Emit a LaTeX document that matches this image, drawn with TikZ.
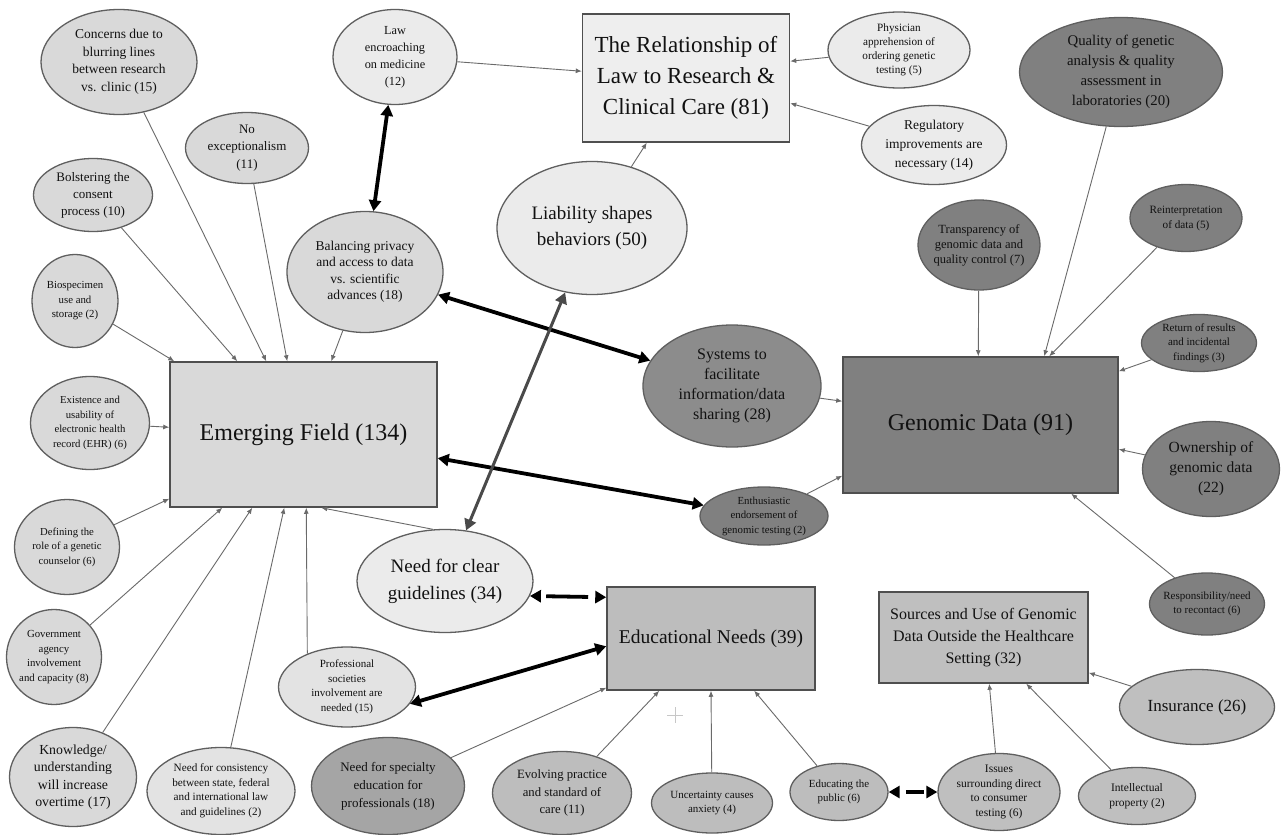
\documentclass[tikz,border=0pt]{standalone}
\usepackage{fontspec}
\setmainfont{Liberation Serif}
\usetikzlibrary{shapes.geometric,arrows.meta}
\definecolor{cLight}{HTML}{EBEBEB}
\definecolor{cRel}{HTML}{EEEEEE}
\definecolor{cMid}{HTML}{D9D9D9}
\definecolor{cLightB}{HTML}{E3E3E3}
\definecolor{cEdu}{HTML}{BDBDBD}
\definecolor{cSpec}{HTML}{A5A5A5}
\definecolor{cSrc}{HTML}{BFBFBF}
\definecolor{cDark}{HTML}{808080}
\definecolor{cSys}{HTML}{8C8C8C}
\definecolor{bordc}{HTML}{5F5F5F}
\definecolor{boxc}{HTML}{4F4F4F}
\definecolor{linec}{HTML}{6A6A6A}
\definecolor{txt}{HTML}{111111}
\definecolor{liabc}{HTML}{4A4A4A}
\tikzset{
  ov/.style 2 args={ellipse, draw=bordc, line width=1.3pt, minimum width=#1, minimum height=#2, inner sep=-30pt, align=center, text=txt},
  bx/.style 2 args={rectangle, draw=boxc, line width=1.5pt, minimum width=#1, minimum height=#2, inner sep=0pt, align=center, text=txt},
  fs/.style 2 args={font=\fontsize{#1}{#2}\selectfont},
  conn/.style={draw=linec, line width=0.9pt, -{Latex[length=6pt,width=5pt]}},
  biarrow/.style={line width=3.8pt, {Triangle[length=11pt,width=12pt]}-{Triangle[length=11pt,width=12pt]}},
}
\begin{document}
\begin{tikzpicture}[x=1pt,y=-1pt]
\useasboundingbox (0,0) rectangle (1286,835);
\fill[white] (0,0) rectangle (1286,835);

% ---- boxes
\node[bx={207pt}{128pt}, fill=cRel, fs={23}{31}] (rel) at (686,78) {The Relationship of\\Law to Research \&\\Clinical Care (81)};
\node[bx={267pt}{145pt}, fill=cMid, fs={24}{30}] (emerg) at (303.5,434.5) {Emerging Field (134)};
\node[bx={275pt}{136pt}, fill=cDark, fs={24}{30}] (gen) at (980.5,425) {Genomic Data (91)};
\node[bx={208pt}{103pt}, fill=cEdu, fs={19.5}{25}] (edu) at (711,638.5) {Educational Needs (39)};
\node[bx={209pt}{91pt}, fill=cSrc, fs={16}{22}] (src) at (983.5,637.5) {Sources and Use of Genomic\\Data Outside the Healthcare\\Setting (32)};

% ---- ellipses, left group
\node[ov={156pt}{105pt}, fill=cMid, fs={13.5}{17.5}] (concerns) at (119,62) {Concerns due to\\blurring lines\\between research\\vs. clinic (15)};
\node[ov={123pt}{71pt}, fill=cMid, fs={13}{17.5}] (noexc) at (247,148) {No\\exceptionalism\\(11)};
\node[ov={119pt}{73pt}, fill=cMid, fs={13}{17}] (bolster) at (93,195) {Bolstering the\\consent\\process (10)};
\node[ov={86pt}{93pt}, fill=cMid, fs={10.8}{14.5}] (bio) at (75,301) {Biospecimen\\use and\\storage (2)};
\node[ov={119pt}{93pt}, fill=cMid, fs={10.7}{14.5}] (ehr) at (90,423) {Existence and\\usability of\\electronic health\\record (EHR) (6)};
\node[ov={105pt}{95pt}, fill=cMid, fs={10.7}{14.5}] (defin) at (67,547) {Defining the\\role of a genetic\\counselor (6)};
\node[ov={95pt}{95pt}, fill=cMid, fs={10.8}{14.5}] (gov) at (54,657) {Government\\agency\\involvement\\and capacity (8)};
\node[ov={127pt}{99pt}, fill=cMid, fs={13.8}{17.5}] (know) at (73,777) {Knowledge/\\understanding\\will increase\\overtime (17)};
\node[ov={148pt}{87pt}, fill=cLightB, fs={11.2}{14.5}] (consist) at (221,791) {Need for consistency\\between state, federal\\and international law\\and guidelines (2)};
\node[ov={137pt}{80pt}, fill=cLightB, fs={11}{14.5}] (prof) at (347,687) {Professional\\societies\\involvement are\\needed (15)};
\node[ov={176pt}{103pt}, fill=cLight, fs={19}{27}] (needclear) at (445,581) {Need for clear\\guidelines (34)};
\node[ov={156pt}{121pt}, fill=cMid, fs={13.5}{16.5}] (balan) at (365,272) {Balancing privacy\\and access to data\\vs. scientific\\advances (18)};

% ---- top group
\node[ov={124pt}{95pt}, fill=cLight, fs={12.3}{17}] (law) at (395,57) {Law\\encroaching\\on medicine\\(12)};
\node[ov={190pt}{133pt}, fill=cLight, fs={19}{26.5}] (liab) at (592,228) {Liability shapes\\behaviors (50)};
\node[ov={142pt}{76pt}, fill=cLight, fs={11.2}{14}] (phys) at (899,50) {Physician\\apprehension of\\ordering genetic\\testing (5)};
\node[ov={145pt}{79pt}, fill=cLight, fs={13.5}{19}] (regul) at (934,145) {Regulatory\\improvements are\\necessary (14)};

% ---- genomic group
\node[ov={203pt}{109pt}, fill=cDark, fs={14.8}{20}] (qual) at (1121,72) {Quality of genetic\\analysis \& quality\\assessment in\\laboratories (20)};
\node[ov={122pt}{90pt}, fill=cDark, fs={12.5}{15}] (transp) at (979,245) {Transparency of\\genomic data and\\quality control (7)};
\node[ov={112pt}{67pt}, fill=cDark, fs={11.2}{15}] (reint) at (1186,218) {Reinterpretation\\of data (5)};
\node[ov={115pt}{57pt}, fill=cDark, fs={11}{14.5}] (ret) at (1199,343) {Return of results\\and incidental\\findings (3)};
\node[ov={137pt}{95pt}, fill=cDark, fs={15.5}{20}] (own) at (1211,469) {Ownership of\\genomic data\\(22)};
\node[ov={115pt}{62pt}, fill=cDark, fs={11}{14.5}] (resp) at (1207,604) {Responsibility/need\\to recontact (6)};
\node[ov={178pt}{122pt}, fill=cSys, fs={16}{20}] (systems) at (732,386) {Systems to\\facilitate\\information/data\\sharing (28)};
\node[ov={128pt}{58pt}, fill=cDark, fs={10.8}{14.5}] (enth) at (764,516) {Enthusiastic\\endorsement of\\genomic testing (2)};

% ---- educational / sources group
\node[ov={153pt}{97pt}, fill=cSpec, fs={13}{18}] (spec) at (388,786) {Need for specialty\\education for\\professionals (18)};
\node[ov={139pt}{83pt}, fill=cEdu, fs={12.7}{17.5}] (evolv) at (562,793) {Evolving practice\\and standard of\\care (11)};
\node[ov={121pt}{60pt}, fill=cEdu, fs={11}{13.5}] (uncert) at (712,803) {Uncertainty causes\\anxiety (4)};
\node[ov={98pt}{57pt}, fill=cEdu, fs={10.9}{14}] (educ) at (839,792) {Educating the\\public (6)};
\node[ov={122pt}{77pt}, fill=cSrc, fs={11.5}{14.5}] (issues) at (999,792) {Issues\\surrounding direct\\to consumer\\testing (6)};
\node[ov={117pt}{57pt}, fill=cSrc, fs={11.5}{14.5}] (intel) at (1137,796) {Intellectual\\property (2)};
\node[ov={155pt}{75pt}, fill=cSrc, fs={17}{22}] (insur) at (1197,707) {Insurance (26)};

% ---- thin connectors to Emerging Field
\draw[conn] (concerns) -- ([xshift=97pt]emerg.north west);
\draw[conn] (noexc) -- ([xshift=118pt]emerg.north west);
\draw[conn] (bolster) -- ([xshift=68pt]emerg.north west);
\draw[conn] (balan) -- ([xshift=162pt]emerg.north west);
\draw[conn] (bio) -- ([xshift=5pt]emerg.north west);
\draw[conn] (ehr) -- ([yshift=-66pt]emerg.north west);
\draw[conn] (defin) -- ([yshift=9pt]emerg.south west);
\draw[conn] (gov) -- ([xshift=53pt]emerg.south west);
\draw[conn] (know) -- ([xshift=83pt]emerg.south west);
\draw[conn] (consist) -- ([xshift=115pt]emerg.south west);
\draw[conn] (prof.140) -- ([xshift=137pt]emerg.south west);
\draw[conn] (needclear.103) -- ([xshift=152pt]emerg.south west);

% ---- thin connectors to Relationship
\draw[conn] (law) -- ([yshift=-58pt]rel.north west);
\draw[conn] (phys) -- ([yshift=-48pt]rel.north east);
\draw[conn] (regul) -- ([yshift=-90pt]rel.north east);
\draw[conn] (liab) -- ([xshift=65pt]rel.south west);

% ---- thin connectors to Genomic Data
\draw[conn] (transp) -- ([xshift=136pt]gen.north west);
\draw[conn] (qual) -- ([xshift=202pt]gen.north west);
\draw[conn] (reint) -- ([xshift=207pt]gen.north west);
\draw[conn] (ret) -- ([yshift=-15pt]gen.north east);
\draw[conn] (own) -- ([yshift=-93pt]gen.north east);
\draw[conn] (resp) -- ([xshift=229pt]gen.south west);
\draw[conn] (systems) -- ([yshift=-45pt]gen.north west);
\draw[conn] (enth) -- ([yshift=18pt]gen.south west);

% ---- thin connectors to Educational Needs and Sources
\draw[conn] (spec) -- ([yshift=3pt]edu.south west);
\draw[conn] (evolv) -- ([xshift=53pt]edu.south west);
\draw[conn] (uncert) -- (edu.south);
\draw[conn] (educ) -- ([xshift=148pt]edu.south west);
\draw[conn] (insur) -- ([yshift=11pt]src.south east);
\draw[conn] (intel) -- ([xshift=148pt]src.south west);
\draw[conn] (issues) -- ([xshift=111pt]src.south west);

% ---- thick two-way connectors
\draw[biarrow] (law) -- (balan);
\draw[biarrow] (balan) -- (systems);
\draw[biarrow] (emerg) -- (enth);
\draw[biarrow] (prof.-15) -- ([yshift=-60pt]edu.north west);
\draw[biarrow, dash pattern=on 42pt off 30pt, dash phase=66pt] (needclear.-10) -- ([yshift=-11pt]edu.north west);
\draw[biarrow, dash pattern=on 18pt off 30pt, dash phase=41pt] (educ) -- (issues);
\draw[biarrow, draw=liabc, fill=liabc, line width=3pt] (liab) -- (needclear);

% ---- faint cursor mark
\draw[draw=black!22, line width=0.8pt] (667,715) -- (683,715) (675,707) -- (675,723);
\end{tikzpicture}
\end{document}
